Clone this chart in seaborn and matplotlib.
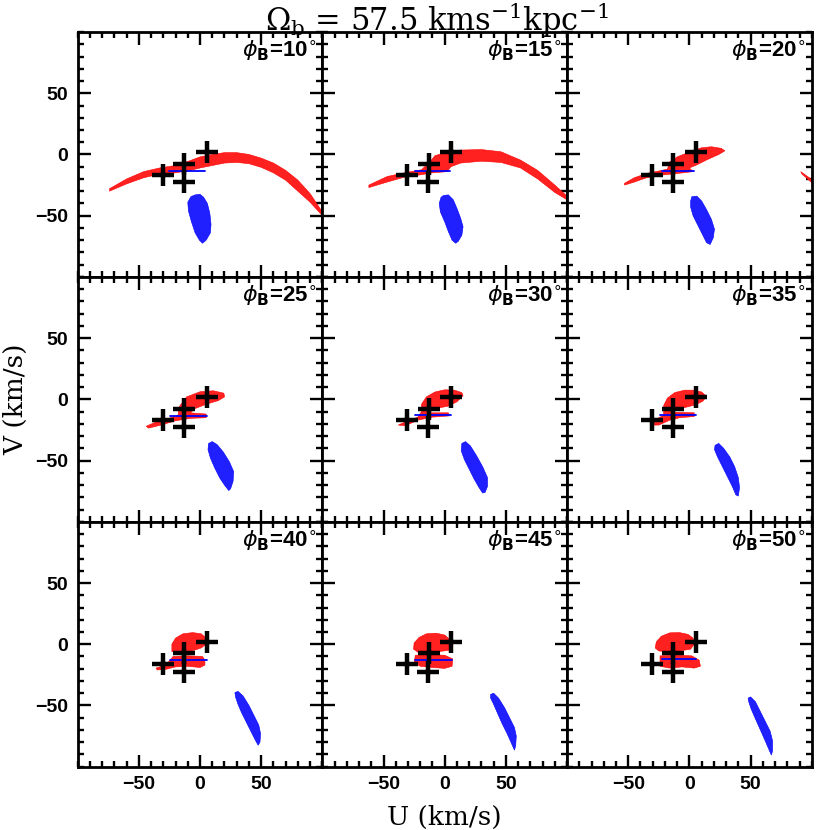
import matplotlib
matplotlib.use("Agg")
import matplotlib.pyplot as plt
import seaborn as sns
from matplotlib.ticker import MultipleLocator, FixedLocator

angles = [10, 15, 20, 25, 30, 35, 40, 45, 50]

# observed moving groups (black crosses)
cross_u = [5.5, -13, -30.5, -13.5]
cross_v = [2, -7.5, -16.5, -22.5]

# red clouds (outline vertices, U,V in km/s)
red_10 = [(-74, -28), (-60, -20), (-46, -14), (-33, -11), (-20, -9), (-8, -5), (0, -2), (10, 0),
          (20, 1.5), (30, 1.5), (40, 0), (50, -3), (60, -7), (70, -13), (80, -21), (90, -32), (100, -47),
          (100, -50), (90, -39), (80, -30), (70, -21), (60, -15), (50, -10.5), (40, -7.5), (30, -6.5),
          (20, -7), (10, -9), (0, -11), (-8, -13), (-20, -15), (-33, -16), (-46, -19), (-60, -24), (-74, -30)]
red_15 = [(-62, -25), (-47, -18), (-33, -15), (-19, -12.5), (-12, -6), (-8, -1), (2, 2), (13, 3.6),
          (30, 4), (46, 2.2), (62, -4.6), (76, -13), (90, -25), (100, -34),
          (100, -37), (90, -31), (76, -20), (62, -11), (46, -6.5), (30, -5.5), (13, -7), (5, -10), (2, -14),
          (-10, -15), (-19, -16.5), (-33, -18.5), (-47, -22.5), (-62, -27)]
red_20 = [(-53, -23.5), (-45, -19), (-35, -15.5), (-25, -13.5), (-18, -12), (-16, -6), (-10, -2), (0, 2),
          (10, 5.5), (18, 6.3), (26, 5), (29, 3), (24, 0), (15, -4), (6, -8.5), (0, -11), (3, -14),
          (-5, -15), (-20, -16.5), (-35, -19), (-45, -22.5), (-53, -25)]
red_20_edge = [(91, -14), (100, -20.5), (100, -23), (92, -16)]
red_25 = [(-44, -22), (-35, -18), (-27, -16), (-18, -13), (-17, -6), (-11, 2), (0, 6.2), (11, 7),
          (19.5, 5), (20, 2), (15, -1), (5, -4), (-4, -7.5), (-8, -11), (5, -12), (5, -15), (-8, -15.5),
          (-20, -17.5), (-32, -21), (-42, -23.5)]
red_30 = [(-38, -21), (-30, -17.5), (-22, -14.5), (-19, -10), (-19, -4), (-15, 2), (-8, 6), (0, 7.8),
          (8, 7.5), (14, 5.5), (15, 3), (10, -2), (3, -5.5), (-5, -7), (-12, -8.5), (-15, -11), (3, -11),
          (4, -13.5), (-10, -14.5), (-22, -17), (-32, -21.5)]
red_35 = [(-32, -19.5), (-27, -16), (-21, -13), (-21, -5), (-18, 1), (-12, 5.5), (-4, 7.5), (4, 7.5),
          (10, 6), (14, 2.5), (11, -1.5), (5, -4.5), (-3, -6.5), (-10, -8), (-14, -10.5), (4, -11),
          (4, -14), (-8, -15), (-16, -17), (-25, -21), (-31, -21)]
red_40_top = [(-23, -6), (-23, 0), (-20, 5), (-14, 8.5), (-6, 9.5), (1, 8.5), (5, 5), (5, 0), (1, -3),
              (-5, -5), (-12, -6.5), (-18, -7)]
red_40_low = [(-36, -19.5), (-28, -17), (-22, -10), (-10, -9.5), (2, -10), (4, -13), (4, -17), (0, -19),
              (-10, -18), (-20, -18.5), (-28, -20.5), (-35, -21)]
red_45_top = [(-25.5, -4), (-25, 1), (-21, 5.5), (-15, 8.5), (-7, 9), (0, 7.5), (4, 4), (5.8, -1),
              (3, -5), (-5, -6), (-15, -6.5), (-22, -6.5)]
red_45_low = [(-24, -9), (-12, -8.5), (0, -9), (6.6, -12), (6, -18), (0, -19.7), (-10, -19),
              (-20, -18), (-25, -15)]
red_50_top = [(-28, -3), (-27, 2), (-23, 6.5), (-16, 9.3), (-8, 9.5), (-1, 8), (3, 5), (4, 0), (1, -4),
              (-8, -5.5), (-18, -6), (-25, -5.5)]
red_50_low = [(-24, -9.5), (-10, -9), (2, -9.5), (8, -13), (9, -18), (4, -19.5), (-6, -18.5),
              (-16, -19.5), (-24, -18)]

# blue clouds
blue_10 = [(-4, -33), (0, -32.5), (3, -35), (6, -40), (8, -48), (9, -57), (8.5, -64), (5, -70), (2, -72.5),
           (-0.5, -70), (-4, -64), (-7, -55), (-9.5, -46), (-10, -39), (-7.5, -34.5)]
blue_15 = [(-1, -33.5), (3, -33), (7, -37), (10, -44), (13, -52), (15, -59), (14, -66), (11, -71),
           (9, -72.5), (6, -70), (3, -63), (0, -55), (-3.5, -47), (-4.5, -40), (-3, -35)]
blue_20 = [(2, -34.5), (6, -34), (10, -38), (14, -45), (18, -53), (20.5, -61), (19.5, -68), (17, -73.5),
           (14, -72), (11, -66), (7, -58), (3, -50), (1, -43), (1, -38)]
blue_25 = [(7, -36), (10, -34.5), (14, -37), (19, -43), (24, -51), (27.5, -59), (27, -67), (25, -73),
           (23.5, -74.5), (20, -70), (16, -64), (12, -56), (8.5, -48), (6.5, -41)]
blue_30 = [(14, -36), (17, -34.5), (21, -38), (26, -46), (31, -55), (35, -64), (35, -71), (33, -76),
           (31, -76.5), (28, -72), (24, -65), (20, -57), (16, -49), (13.5, -42)]
blue_35 = [(21, -37.5), (24, -36), (28, -40), (33, -47), (37, -55), (40, -64), (41, -72), (40, -79),
           (38, -78), (35, -71), (31, -63), (27, -55), (23, -47), (20.5, -41)]
blue_40 = [(28.5, -39.5), (31, -38.5), (35, -42), (40, -50), (44, -58), (48, -66), (49.5, -73), (49, -80),
           (47.5, -82.5), (45, -78), (42, -72), (38, -64), (34, -56), (31, -49), (29, -43)]
blue_45 = [(37.5, -41), (40, -40), (44, -44), (49, -52), (53, -60), (57, -68), (58.5, -75), (58, -83),
           (57, -86.5), (55, -82), (51, -73), (47, -65), (43, -56), (39.5, -48), (37.5, -44)]
blue_50 = [(48, -44), (50, -43), (54, -47), (58, -55), (62, -63), (66, -71), (68, -79), (68, -87),
           (67, -90.5), (65, -86), (62, -79), (58, -70), (54, -61), (50.5, -53), (48.5, -47)]

# thin blue streak under the red cloud
streak_u0 = [-25, -24, -22, -24.5, -24, -24, -24.5, -24, -22.5]
streak_u1 = [4, 4, 4, 5.5, 5.5, 5.5, 5.5, 6, 5.5]
streak_v = [-13.6, -13.5, -13.8, -13.4, -13, -12.9, -13, -12.6, -12.4]

red_sets = [[red_10], [red_15], [red_20, red_20_edge], [red_25], [red_30], [red_35],
            [red_40_top, red_40_low], [red_45_top, red_45_low], [red_50_top, red_50_low]]
blue_sets = [blue_10, blue_15, blue_20, blue_25, blue_30, blue_35, blue_40, blue_45, blue_50]

sns.set_theme(style="ticks")
plt.rcParams['font.family'] = ['Liberation Sans', 'DejaVu Sans']
plt.rcParams['mathtext.fontset'] = 'dejavusans'
for key in ['text.color', 'axes.labelcolor', 'xtick.color', 'ytick.color', 'axes.edgecolor']:
    plt.rcParams[key] = 'black'

fig, axes = plt.subplots(3, 3, figsize=(8.3, 8.3), dpi=100, sharex=True, sharey=True)
fig.subplots_adjust(left=0.0936, right=0.978, top=0.9614, bottom=0.0763, wspace=0, hspace=0)

for i, ax in enumerate(axes.flat):
    for poly in red_sets[i]:
        u, v = zip(*poly)
        ax.fill(u, v, color='#ff2020', lw=0.4, ec='#ff0000', zorder=2)
    u, v = zip(*blue_sets[i])
    ax.fill(u, v, color='#2020ff', lw=0.4, ec='#0000ff', zorder=2)
    ax.plot([streak_u0[i], streak_u1[i]], [streak_v[i], streak_v[i]], color='#0000ff', lw=1.3, zorder=3)
    sns.scatterplot(x=cross_u, y=cross_v, ax=ax, marker='+', s=260, color='black',
                    linewidth=3.2, zorder=4, legend=False)
    ax.text(0.975, 0.975, r'$\phi_{\mathbf{B}}$=%d$^{\circ}$' % angles[i], transform=ax.transAxes,
            ha='right', va='top', fontsize=16, fontweight='bold')

    ax.set_xlim(-100, 100)
    ax.set_ylim(-100, 100)
    ax.xaxis.set_major_locator(FixedLocator([-50, 0, 50]))
    ax.yaxis.set_major_locator(FixedLocator([-50, 0, 50]))
    ax.xaxis.set_minor_locator(MultipleLocator(10))
    ax.yaxis.set_minor_locator(MultipleLocator(10))
    ax.tick_params(which='both', direction='in', top=True, right=True, width=1.7)
    ax.tick_params(which='major', length=9, labelsize=14, pad=7)
    ax.tick_params(which='minor', length=4.5)
    for lbl in ax.get_xticklabels() + ax.get_yticklabels():
        lbl.set_fontweight('bold')
    for sp in ax.spines.values():
        sp.set_linewidth(2)
    ax.set_xlabel('')
    ax.set_ylabel('')

grid_mid = (0.0936 + 0.978) / 2
fig.text(grid_mid - 0.01, 1.0, r'$\Omega_{\rm b}$ = 57.5 kms$^{-1}$kpc$^{-1}$', ha='center', va='top',
         fontsize=22, family='DejaVu Serif', math_fontfamily='dejavuserif')
fig.text(grid_mid, 0.0, 'U (km/s)', ha='center', va='bottom', fontsize=19, family='DejaVu Serif')
fig.text(0.004, 0.519, 'V (km/s)', ha='left', va='center', rotation=90, fontsize=19, family='DejaVu Serif')

fig.savefig('out.png', dpi=100)
